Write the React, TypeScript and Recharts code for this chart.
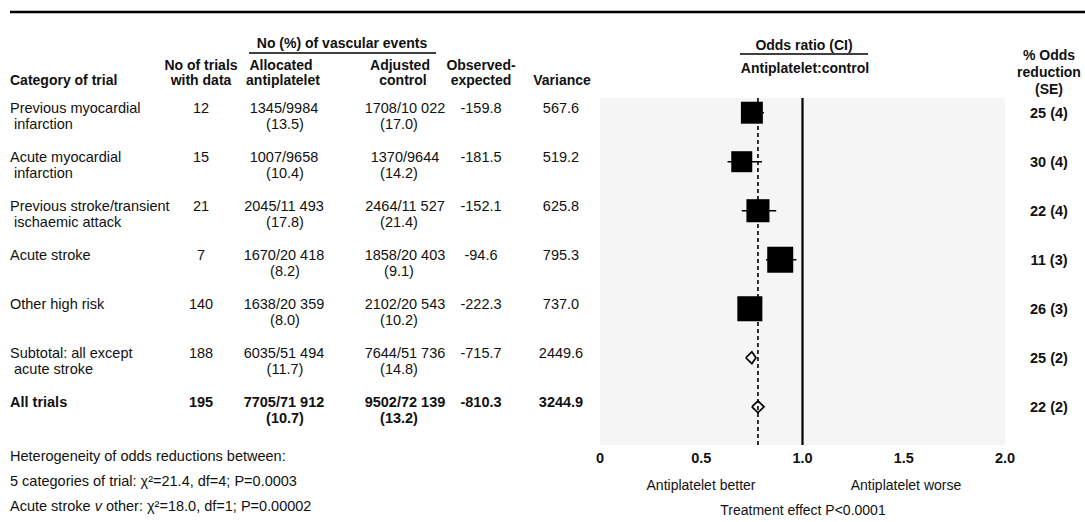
import React from 'react';
import {
  ScatterChart, Scatter, XAxis, YAxis, ZAxis, ErrorBar,
  ReferenceLine, ReferenceArea,
} from 'recharts';

const FONT = '"Liberation Sans", Arial, sans-serif';

// table rows
const categoryLines = [
  ['Previous myocardial', ' infarction'],
  ['Acute myocardial', ' infarction'],
  ['Previous stroke/transient', ' ischaemic attack'],
  ['Acute stroke'],
  ['Other high risk'],
  ['Subtotal: all except', ' acute stroke'],
  ['All trials'],
];
const trials = [12, 15, 21, 7, 140, 188, 195];
const antiplatelet = ['1345/9984', '1007/9658', '2045/11 493', '1670/20 418', '1638/20 359', '6035/51 494', '7705/71 912'];
const antiplateletPct = ['13.5', '10.4', '17.8', '8.2', '8.0', '11.7', '10.7'];
const control = ['1708/10 022', '1370/9644', '2464/11 527', '1858/20 403', '2102/20 543', '7644/51 736', '9502/72 139'];
const controlPct = ['17.0', '14.2', '21.4', '9.1', '10.2', '14.8', '13.2'];
const observedExpected = ['-159.8', '-181.5', '-152.1', '-94.6', '-222.3', '-715.7', '-810.3'];
const variance = [567.6, 519.2, 625.8, 795.3, 737.0, 2449.6, 3244.9];
const reduction = ['25 (4)', '30 (4)', '22 (4)', '11 (3)', '26 (3)', '25 (2)', '22 (2)'];

// odds ratios
const oddsRatio = [0.75, 0.70, 0.78, 0.89, 0.74, 0.75, 0.78];
const ciLow = [0.70, 0.63, 0.70, 0.82, 0.69, 0.72, 0.75];
const ciHigh = [0.81, 0.80, 0.87, 0.97, 0.80, 0.77, 0.81];

const xTicks = [0, 0.5, 1, 1.5, 2];
const rowIdx = [0, 1, 2, 3, 4, 5, 6];

const squareRows = [0, 1, 2, 3, 4].map((i) => ({
  x: oddsRatio[i],
  y: i,
  variance: variance[i],
  ci: [oddsRatio[i] - ciLow[i], ciHigh[i] - oddsRatio[i]],
}));

const DIAMOND_H = 0.12;
const diamond = (i: number) => [
  { x: ciLow[i], y: i },
  { x: oddsRatio[i], y: i - DIAMOND_H },
  { x: ciHigh[i], y: i },
  { x: oddsRatio[i], y: i + DIAMOND_H },
  { x: ciLow[i], y: i },
];

const RowTick = (props: any) => {
  const { y, payload } = props;
  const i = payload.value as number;
  const fw = i === 6 ? 'bold' : 'normal';
  const l1 = y - 5;
  const l2 = y + 11;
  const lines = categoryLines[i];
  return (
    <g fontFamily={FONT} fontSize={14.5} fill="#111" fontWeight={fw}>
      <text x={10} y={l1} dominantBaseline="central">{lines[0]}</text>
      {lines[1] && <text x={10} y={l2} dominantBaseline="central" style={{ whiteSpace: 'pre' }}>{lines[1]}</text>}
      <text x={201} y={l1} textAnchor="middle" dominantBaseline="central">{trials[i]}</text>
      <text x={284} y={l1} textAnchor="middle" dominantBaseline="central">{antiplatelet[i]}</text>
      <text x={285} y={l2} textAnchor="middle" dominantBaseline="central">({antiplateletPct[i]})</text>
      <text x={405} y={l1} textAnchor="middle" dominantBaseline="central">{control[i]}</text>
      <text x={399} y={l2} textAnchor="middle" dominantBaseline="central">({controlPct[i]})</text>
      <text x={481} y={l1} textAnchor="middle" dominantBaseline="central">{observedExpected[i]}</text>
      <text x={561} y={l1} textAnchor="middle" dominantBaseline="central">{variance[i].toFixed(1)}</text>
      <text x={1049} y={y} textAnchor="middle" dominantBaseline="central" fontWeight="bold">{reduction[i]}</text>
    </g>
  );
};

const XTick = (props: any) => {
  const { x, y, payload } = props;
  const v = payload.value as number;
  return (
    <text x={x} y={y + 5} textAnchor="middle" dominantBaseline="central"
      fontFamily={FONT} fontSize={14.5} fontWeight="bold" fill="#111">
      {v === 0 ? '0' : v.toFixed(1)}
    </text>
  );
};

const H = (p: { x: number; y: number; children: React.ReactNode; anchor?: string }) => (
  <text x={p.x} y={p.y} textAnchor={p.anchor || 'middle'} dominantBaseline="central" fontWeight="bold">
    {p.children}
  </text>
);

export default function App() {
  return (
    <div style={{ position: 'absolute', left: 0, top: 0, width: 1085, height: 522, background: '#fff' }}>
      <ScatterChart width={1085} height={522} margin={{ top: 98, right: 80, bottom: 47, left: 599 }}>
        <ReferenceArea x1={0} x2={2} fill="#000" fillOpacity={0.04} stroke="none" ifOverflow="visible" />
        <XAxis type="number" dataKey="x" domain={[0, 2]} ticks={xTicks} axisLine={false}
          tickLine={false} tick={<XTick />} height={30} allowDataOverflow />
        <YAxis type="number" dataKey="y" domain={[-0.3, 6.78]} reversed ticks={rowIdx}
          axisLine={false} tickLine={false} tick={<RowTick />} width={1} interval={0} />
        <ZAxis type="number" dataKey="variance" domain={[0, 800]} range={[0, 680]} />
        <ReferenceLine x={1} stroke="#000" strokeWidth={2.2} />
        <ReferenceLine x={oddsRatio[6]} stroke="#000" strokeWidth={1.6} strokeDasharray="4 3" />
        <Scatter data={squareRows} shape="square" fill="#000" isAnimationActive={false}>
          <ErrorBar dataKey="ci" direction="x" width={0} stroke="#000" strokeWidth={1.5} />
        </Scatter>
        <Scatter data={diamond(5)} line={{ stroke: '#000', strokeWidth: 1.7 }} lineType="joint"
          shape={() => <g />} isAnimationActive={false} />
        <Scatter data={diamond(6)} line={{ stroke: '#000', strokeWidth: 1.7 }} lineType="joint"
          shape={() => <g />} isAnimationActive={false} />
      </ScatterChart>

      <svg width={1085} height={522} style={{ position: 'absolute', left: 0, top: 0, pointerEvents: 'none' }}>
        <line x1={10} x2={1085} y1={12} y2={12} stroke="#000" strokeWidth={2.5} />
        <g fontFamily={FONT} fontSize={14} fill="#111">
          <H x={342} y={43}>No (%) of vascular events</H>
          <line x1={249} x2={436} y1={53} y2={53} stroke="#000" strokeWidth={1.5} />
          <H x={10} y={80} anchor="start">Category of trial</H>
          <H x={201} y={65}>No of trials</H>
          <H x={201} y={80}>with data</H>
          <H x={281} y={65}>Allocated</H>
          <H x={283} y={80}>antiplatelet</H>
          <H x={400} y={65}>Adjusted</H>
          <H x={403} y={80}>control</H>
          <H x={481} y={65}>Observed-</H>
          <H x={481} y={80}>expected</H>
          <H x={562} y={80}>Variance</H>
          <H x={804} y={45}>Odds ratio (CI)</H>
          <line x1={740} x2={868} y1={54} y2={54} stroke="#000" strokeWidth={1.5} />
          <H x={805} y={68}>Antiplatelet:control</H>
          <H x={1049} y={55}>% Odds</H>
          <H x={1049} y={72}>reduction</H>
          <H x={1049} y={89}>(SE)</H>
        </g>
        <g fontFamily={FONT} fontSize={14} fill="#111">
          <text x={701} y={485} textAnchor="middle" dominantBaseline="central">Antiplatelet better</text>
          <text x={906} y={485} textAnchor="middle" dominantBaseline="central">Antiplatelet worse</text>
          <text x={803} y={510} textAnchor="middle" dominantBaseline="central">Treatment effect P&lt;0.0001</text>
        </g>
        <g fontFamily={FONT} fontSize={14.5} fill="#111">
          <text x={10} y={456} dominantBaseline="central">Heterogeneity of odds reductions between:</text>
          <text x={10} y={481} dominantBaseline="central">5 categories of trial: χ²=21.4, df=4; P=0.0003</text>
          <text x={10} y={506} dominantBaseline="central">
            Acute stroke <tspan fontStyle="italic">v</tspan> other: χ²=18.0, df=1; P=0.00002
          </text>
        </g>
      </svg>
    </div>
  );
}
